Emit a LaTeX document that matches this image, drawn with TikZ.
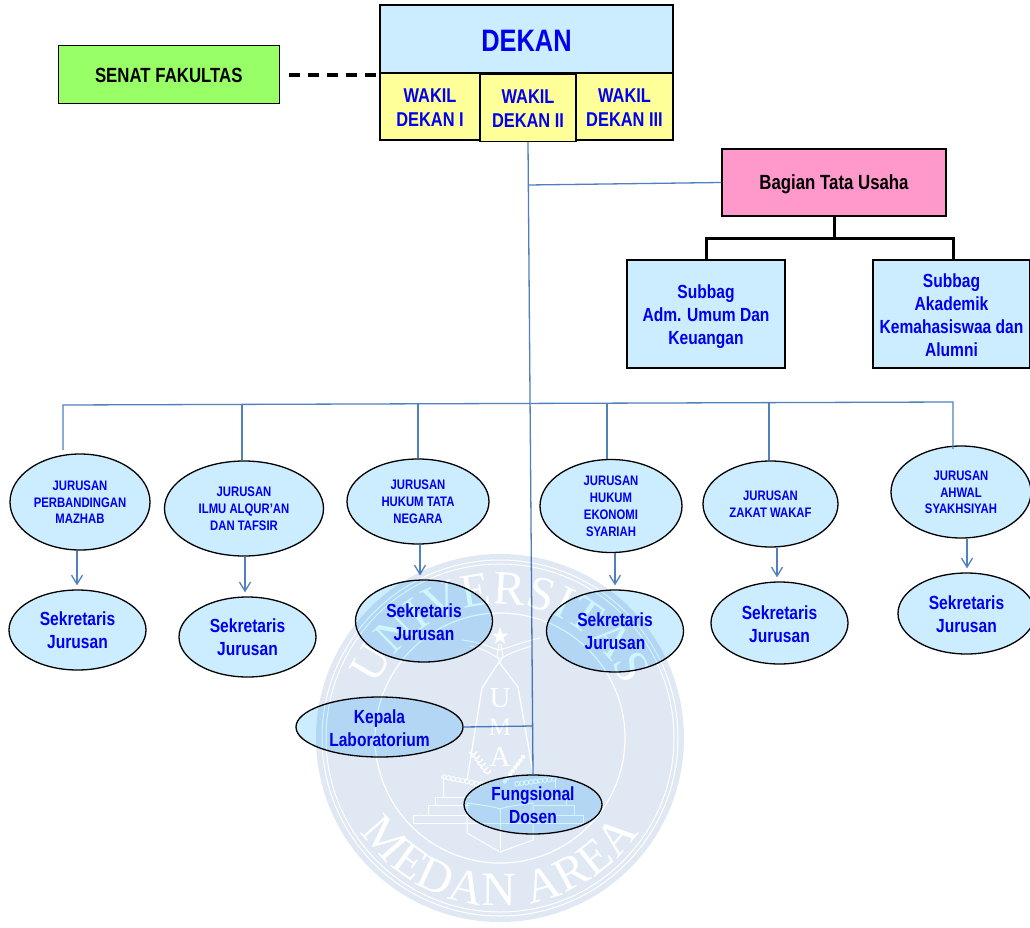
\documentclass[tikz,border=0pt]{standalone}
\usepackage{fontspec}
\setmainfont[FakeStretch=0.82]{Liberation Sans}
\newfontfamily\wmfont{Liberation Serif}
\usetikzlibrary{shapes.geometric,arrows.meta,decorations.text,calc}
\definecolor{lblue}{HTML}{CCECFF}
\definecolor{lyellow}{HTML}{FFFF99}
\definecolor{lgreen}{HTML}{99FF66}
\definecolor{lpink}{HTML}{FF99CC}
\definecolor{txtblue}{HTML}{0000EE}
\definecolor{linkblue}{HTML}{4F81BD}
\definecolor{wmtint}{HTML}{E0E8F4}
\definecolor{wmdodge}{HTML}{222222}
\newcommand{\lbl}[1]{\smash{\raisebox{-0.38em}{\begin{tabular}[c]{@{}c@{}}#1\end{tabular}}}}
\tikzset{
  boxbase/.style={rectangle,draw=black,line width=1.4pt,inner sep=0pt,font=\bfseries\fontsize{19}{23}\selectfont,text=txtblue},
  bluebox/.style={boxbase,fill=lblue,line width=1.1pt},
  yellowbox/.style={boxbase,fill=lyellow,font=\bfseries\fontsize{20}{24}\selectfont},
  oval/.style={ellipse,draw=black,line width=1.3pt,fill=lblue,inner sep=0pt,text=txtblue},
  jur/.style={oval,font=\bfseries\fontsize{13.8}{16.8}\selectfont},
  sek/.style={oval,font=\bfseries\fontsize{19}{23}\selectfont},
  link/.style={draw=linkblue,line width=1.3pt},
  arr/.style={link,-{Straight Barb[length=9pt,width=11pt]},shorten >=4pt},
  org/.style={draw=black,line width=3pt},
  wm/.style={draw=wmdodge,line width=1pt,fill=none}
}
\begin{document}
\begin{tikzpicture}[x=1pt,y=-1pt]
\useasboundingbox (0,0) rectangle (1030,928);
\fill[white] (0,0) rectangle (1030,928);

% top block
\node[bluebox,line width=1.4pt,minimum width=293pt,minimum height=68pt,font=\bfseries\fontsize{31}{35}\selectfont] (dekan) at (526.5,39) {\lbl{DEKAN}};
\node[yellowbox,minimum width=100pt,minimum height=67pt] (wd1) at (430,106.5) {\raisebox{-1pt}{\lbl{WAKIL\\DEKAN I}}};
\node[yellowbox,minimum width=97pt,minimum height=67pt] (wd3) at (624.5,106.5) {\raisebox{-1pt}{\lbl{WAKIL\\DEKAN III}}};
\node[yellowbox,minimum width=96pt,minimum height=67pt] (wd2) at (528,108) {\lbl{WAKIL\\DEKAN II}};
\node[boxbase,fill=lgreen,line width=1pt,minimum width=221.5pt,minimum height=58pt,text=black,font=\bfseries\fontsize{20.5}{24}\selectfont] (senat) at (168.8,75) {\lbl{SENAT FAKULTAS}};
\draw[black,line width=3.5pt,dash pattern=on 11pt off 8pt] (senat.east) ++(9,0) -- (senat.east -| dekan.west);

% administration
\node[boxbase,fill=lpink,minimum width=224pt,minimum height=67pt,text=black,font=\bfseries\fontsize{20.5}{24}\selectfont] (tu) at (834,182.5) {\lbl{Bagian Tata Usaha}};
\node[bluebox,minimum width=158pt,minimum height=108pt] (sb1) at (706,314) {\lbl{Subbag\\Adm. Umum Dan\\Keuangan}};
\node[bluebox,minimum width=157pt,minimum height=108pt] (sb2) at (951.5,314) {\lbl{Subbag\\Akademik\\Kemahasiswaa dan\\Alumni}};
\coordinate (tuj) at (834,238);
\draw[org] (tu.south) -- (tuj);
\draw[org] (sb1.north) |- (tuj) -| (953,260);

% departments
\node[jur,minimum width=140pt,minimum height=96pt] (j1) at (80,502) {\lbl{JURUSAN\\PERBANDINGAN\\MAZHAB}};
\node[jur,minimum width=159pt,minimum height=95pt] (j2) at (244,508.5) {\lbl{JURUSAN\\ILMU ALQUR'AN\\DAN TAFSIR}};
\node[jur,minimum width=142pt,minimum height=85pt] (j3) at (418,501.5) {\lbl{JURUSAN\\HUKUM TATA\\NEGARA}};
\node[jur,minimum width=142pt,minimum height=93pt] (j4) at (611,506) {\lbl{JURUSAN\\HUKUM\\EKONOMI\\SYARIAH}};
\node[jur,minimum width=135pt,minimum height=86pt] (j5) at (770.5,504) {\lbl{JURUSAN\\ZAKAT WAKAF}};
\node[jur,minimum width=140pt,minimum height=92pt] (j6) at (961,492) {\lbl{JURUSAN\\AHWAL\\SYAKHSIYAH}};

\node[sek,minimum width=137pt,minimum height=80pt] (s1) at (77.5,630) {\raisebox{2pt}{\lbl{Sekretaris\\Jurusan}}};
\node[sek,minimum width=137pt,minimum height=80pt] (s2) at (247.5,637) {\raisebox{1pt}{\lbl{Sekretaris\\Jurusan}}};
\node[sek,minimum width=137pt,minimum height=82pt] (s3) at (424,621) {\lbl{Sekretaris\\Jurusan}};
\node[sek,minimum width=137pt,minimum height=82pt] (s4) at (615,631) {\raisebox{1pt}{\lbl{Sekretaris\\Jurusan}}};
\node[sek,minimum width=137pt,minimum height=82pt] (s5) at (779.5,623) {\lbl{Sekretaris\\Jurusan}};
\node[sek,minimum width=137pt,minimum height=81pt] (s6) at (966.5,613.5) {\lbl{Sekretaris\\Jurusan}};
\node[sek,minimum width=167pt,minimum height=60pt] (kl) at (379.5,727) {\lbl{Kepala\\Laboratorium}};
\node[sek,minimum width=138pt,minimum height=59pt] (fd) at (533,804.5) {\lbl{Fungsional\\Dosen}};

% blue connectors
\coordinate (tr1) at (528.5,185);
\coordinate (tr2) at (532.5,726);
\coordinate (busL) at (63,405);
\coordinate (busR) at (953,402);
\coordinate (d1) at (63,450);
\coordinate (d6) at (953,449);
\coordinate (t2) at (242,404);
\coordinate (t3) at (418,403.5);
\coordinate (t4) at (607,403);
\coordinate (t5) at (769,403);
\draw[link] (wd2.south) -- (fd.north);
\draw[link] (tr1) -- (tu.west);
\draw[link] (kl.east) -- (tr2);
\draw[link] (d1) -- (busL) -- (busR) -- (d6);
\draw[link] (t2) -- (t2 |- j2.north);
\draw[link] (t3) -- (t3 |- j3.north);
\draw[link] (t4) -- (t4 |- j4.north);
\draw[link] (t5) -- (t5 |- j5.north);

\draw[arr] ([xshift=-0.5pt]s1.north |- j1.south) -- ([xshift=-0.5pt]s1.north);
\draw[arr] ([xshift=-2.5pt]s2.north |- j2.south) -- ([xshift=-2.5pt]s2.north);
\draw[arr] ([xshift=-4pt]s3.north |- j3.south) -- ([xshift=-4pt]s3.north);
\draw[arr] (s4.north |- j4.south) -- (s4.north);
\draw[arr] ([xshift=-2.5pt]s5.north |- j5.south) -- ([xshift=-2.5pt]s5.north);
\draw[arr] ([xshift=0.5pt]s6.north |- j6.south) -- ([xshift=0.5pt]s6.north);

% watermark: the tint multiplies what lies under it, the marks dodge it back to white
\fill[wmtint,blend mode=multiply] (500,738) circle[radius=184];
\begin{scope}[blend mode=color dodge,shift={(500,738)},x=1pt,y=1pt]
  \draw[wm] (0,0) circle[radius=178];
  \draw[wm] (0,0) circle[radius=174];
  \draw[wm,line width=1.2pt] (0,0) circle[radius=125];
  \path[decorate,decoration={text along path,text align=fit to path,
    text={|\wmfont\fontsize{48}{48}\selectfont\color{wmdodge}|UNIVERSITAS}}]
    (157:134) arc[start angle=157,end angle=23,radius=134];
  \path[decorate,decoration={text along path,text align=fit to path,
    text={|\wmfont\fontsize{48}{48}\selectfont\color{wmdodge}|MEDAN AREA}}]
    (214:168) arc[start angle=214,end angle=326,radius=168];
  % star and bird
  \fill[wmdodge] (0,111) -- (2.2,104.5) -- (8.5,104.5) -- (3.4,100.5) -- (5.3,94) -- (0,98) -- (-5.3,94) -- (-3.4,100.5) -- (-8.5,104.5) -- (-2.2,104.5) -- cycle;
  \draw[wm] (-38,98) .. controls (-20,96) and (-8,90) .. (-1,88) .. controls (8,90) and (22,96) .. (40,100);
  \draw[wm] (-30,92) .. controls (-18,90) and (-8,84) .. (-2,80) -- (2,80) .. controls (8,84) and (18,88) .. (32,92);
  \draw[wm] (-1,94) -- (-3,82) -- (0,76) -- (3,82) -- (1,94);
  % monument
  \draw[wm,line width=1.3pt] (-33,-42) -- (-18,50) -- (-1,76) -- (18,51) -- (33,-35);
  \node[text=wmdodge,font=\wmfont\fontsize{29}{29}\selectfont] (wmU) at (0,40) {U};
  \node[text=wmdodge,font=\wmfont\fontsize{25}{25}\selectfont] (wmM) at (0,11) {M};
  \node[text=wmdodge,font=\wmfont\fontsize{29}{29}\selectfont] (wmA) at (0,-19) {A};
  % wreath
  \foreach \i in {0,...,7} { \fill[wmdodge] ({23-2.6*\i},{-19-3.5*\i}) circle[radius=2.2]; }
  \foreach \i in {0,...,5} { \draw[wmdodge,line width=1.4pt] ({-26+2.8*\i},{-17-3.8*\i}) -- ++(-5,3); \draw[wmdodge,line width=1.4pt] ({-26+2.8*\i},{-17-3.8*\i}) -- ++(3,3.5); }
  % beads
  \foreach \i in {0,...,8} { \draw[wm,line width=0.9pt] ({-56+4.6*\i},{-39-\i*0.9}) circle[radius=2.3]; }
  \foreach \i in {0,...,8} { \draw[wm,line width=0.9pt] ({54-4.6*\i},{-41-\i*0.6}) circle[radius=2.3]; }
  \draw[wm] (-57,-38) -- (-57,-50);
  \draw[wm] (55,-40) -- (55,-50);
  % steps
  \draw[wm] (-57,-50) -- (-57,-59) -- (-65,-59) -- (-65,-67) -- (-72,-67) -- (-72,-77) -- (-79,-77) -- (-87,-77) -- (-87,-85) -- (83,-85) -- (83,-77) -- (74,-77) -- (74,-67) -- (66,-67) -- (66,-59) -- (55,-59);
  \draw[wm] (-57,-59) -- (-30,-59) (-65,-67) -- (-30,-67) (-79,-77) -- (-30,-77);
  \draw[wm] (34,-59) -- (55,-59) (34,-67) -- (66,-67) (34,-77) -- (74,-77);
  % book
  \draw[wm] (-33,-65) .. controls (-20,-67) and (-8,-68) .. (0,-71) .. controls (8,-68) and (20,-67) .. (33,-65) -- (33,-102) -- (0,-114) -- (-33,-95) -- cycle;
  \draw[wm] (0,-71) -- (0,-112);
\end{scope}
\end{tikzpicture}
\end{document}
